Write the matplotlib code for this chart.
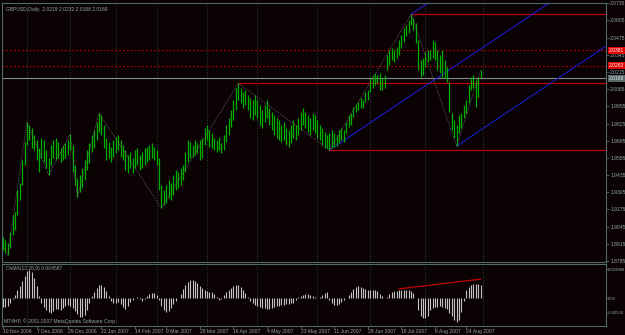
import numpy as np
import matplotlib
matplotlib.use('Agg')
import matplotlib.pyplot as plt
import matplotlib.transforms as mtransforms

# ---------------- data ----------------
highs = [1.8966,1.8944,1.8921,1.9004,1.9132,1.9155,1.9321,1.9374,1.9548,1.9684,
         1.9836,1.9813,1.9790,1.9737,1.9699,1.9639,1.9715,1.9699,1.9624,1.9563,
         1.9662,1.9699,1.9715,1.9684,1.9639,1.9662,1.9677,1.9699,1.9745,1.9662,
         1.9510,1.9412,1.9435,1.9488,1.9548,1.9624,1.9677,1.9737,1.9775,1.9836,
         1.9903,1.9888,1.9813,1.9715,1.9684,1.9646,1.9699,1.9722,1.9737,1.9699,
         1.9662,1.9624,1.9586,1.9609,1.9563,1.9624,1.9639,1.9586,1.9609,1.9639,
         1.9646,1.9662,1.9677,1.9646,1.9624,1.9563,1.9359,1.9321,1.9359,1.9397,
         1.9374,1.9435,1.9472,1.9457,1.9488,1.9510,1.9609,1.9699,1.9684,1.9662,
         1.9699,1.9677,1.9699,1.9715,1.9790,1.9813,1.9775,1.9752,1.9715,1.9699,
         1.9722,1.9677,1.9737,1.9813,1.9866,1.9926,2.0002,2.0092,2.0130,2.0092,
         2.0062,2.0077,2.0040,2.0017,2.0002,2.0040,2.0002,1.9964,1.9926,1.9964,
         2.0002,1.9941,1.9911,1.9888,1.9866,1.9851,1.9813,1.9836,1.9790,1.9775,
         1.9813,1.9851,1.9813,1.9866,1.9911,1.9941,1.9911,1.9888,1.9866,1.9903,
         1.9888,1.9851,1.9813,1.9790,1.9760,1.9737,1.9752,1.9775,1.9752,1.9737,
         1.9775,1.9790,1.9775,1.9836,1.9888,1.9903,1.9949,1.9971,1.9987,2.0017,
         2.0002,2.0062,2.0077,2.0168,2.0191,2.0206,2.0191,2.0206,2.0168,2.0191,
         2.0342,2.0380,2.0395,2.0380,2.0402,2.0455,2.0493,2.0546,2.0569,2.0607,
         2.0652,2.0622,2.0584,2.0455,2.0304,2.0319,2.0365,2.0380,2.0380,2.0455,
         2.0440,2.0380,2.0342,2.0380,2.0304,2.0251,2.0138,1.9903,1.9851,1.9813,
         1.9888,1.9903,1.9964,2.0002,2.0115,2.0176,2.0191,2.0153,2.0176,2.0232]
lows = [1.8868,1.8845,1.8830,1.8883,1.8981,1.9019,1.9132,1.9246,1.9359,1.9510,
        1.9662,1.9699,1.9639,1.9624,1.9548,1.9457,1.9563,1.9533,1.9488,1.9435,
        1.9510,1.9563,1.9548,1.9563,1.9533,1.9548,1.9563,1.9586,1.9624,1.9457,
        1.9359,1.9268,1.9306,1.9337,1.9397,1.9472,1.9525,1.9609,1.9639,1.9699,
        1.9760,1.9737,1.9639,1.9548,1.9563,1.9533,1.9571,1.9601,1.9624,1.9571,
        1.9548,1.9472,1.9450,1.9488,1.9450,1.9488,1.9510,1.9472,1.9488,1.9510,
        1.9533,1.9548,1.9563,1.9548,1.9510,1.9321,1.9185,1.9208,1.9223,1.9261,
        1.9246,1.9284,1.9321,1.9337,1.9359,1.9397,1.9457,1.9533,1.9563,1.9571,
        1.9586,1.9601,1.9548,1.9563,1.9662,1.9699,1.9646,1.9639,1.9624,1.9609,
        1.9624,1.9601,1.9624,1.9684,1.9737,1.9798,1.9851,1.9926,2.0002,1.9979,
        1.9941,1.9964,1.9926,1.9866,1.9851,1.9888,1.9866,1.9813,1.9790,1.9836,
        1.9866,1.9813,1.9775,1.9737,1.9715,1.9699,1.9684,1.9699,1.9662,1.9646,
        1.9677,1.9715,1.9699,1.9737,1.9775,1.9813,1.9790,1.9760,1.9737,1.9775,
        1.9752,1.9715,1.9699,1.9662,1.9639,1.9639,1.9624,1.9639,1.9646,1.9654,
        1.9677,1.9699,1.9684,1.9752,1.9798,1.9813,1.9873,1.9911,1.9926,1.9941,
        1.9941,1.9987,2.0002,2.0062,2.0092,2.0115,2.0130,2.0077,2.0077,2.0092,
        2.0228,2.0266,2.0304,2.0289,2.0319,2.0342,2.0395,2.0440,2.0486,2.0508,
        2.0569,2.0531,2.0433,2.0228,2.0176,2.0191,2.0251,2.0289,2.0304,2.0319,
        2.0304,2.0228,2.0206,2.0168,2.0168,2.0138,1.9911,1.9775,1.9715,1.9654,
        1.9752,1.9790,1.9866,1.9903,1.9979,2.0077,2.0092,1.9949,2.0024,2.0168]
last_close = 2.0169

# OsMA(12,26,9) histogram, in units of 1e-4
osma_e4 = [-32,-32,-28,-18,-4,10,28,42,60,77,
           95,98,91,70,42,7,-18,-32,-42,-49,
           -53,-46,-38,-38,-42,-35,-28,-25,-28,-35,
           -46,-56,-66,-66,-60,-42,-18,7,21,35,
           46,46,38,25,7,-10,-18,-18,-14,-21,
           -32,-38,-28,-14,-7,0,4,-4,-10,-4,
           7,14,18,18,10,-7,-28,-42,-49,-46,
           -35,-21,-10,0,14,32,46,56,63,63,
           60,52,42,35,28,25,21,21,14,4,
           -7,-4,10,21,28,35,42,46,46,38,
           28,18,4,-10,-18,-25,-28,-32,-35,-35,
           -38,-38,-35,-32,-28,-28,-25,-25,-21,-21,
           -18,-18,-7,4,7,10,14,14,10,7,
           4,0,4,10,18,21,-7,-18,-25,-25,
           -21,-14,-7,0,10,21,32,38,42,38,
           35,32,28,28,28,28,25,14,7,0,
           4,14,21,25,25,28,28,28,28,28,
           25,18,0,-42,-63,-70,-70,-63,-42,-35,
           -32,-32,-28,-32,-35,-38,-52,-63,-77,-84,
           -77,-49,-10,28,38,46,49,49,49,46]

zz_idx = [2, 10, 19, 28, 31, 40, 66, 98, 136, 170, 189, 199]
zz_kind = ['L', 'H', 'L', 'H', 'L', 'H', 'L', 'H', 'L', 'H', 'L', 'H']
pitchfork_idx = [136, 170, 189]
ray_idx = [98, 136, 170]
ray_kind = ['H', 'L', 'H']
dotted_levels = [2.0381, 2.0263]
osma_trend_idx = [165, 199]
osma_trend_val = [0.0032, 0.0066]

price_ticks = [2.0735, 2.0605, 2.0475, 2.0345, 2.0215, 2.0085, 1.9955, 1.9825,
               1.9695, 1.9565, 1.9435, 1.9305, 1.9175, 1.9045, 1.8915, 1.8785]
osma_ticks = [0.009988, 0.0, -0.00524]
osma_tick_labels = ['0.009988', '0.00', '-0.00524']
date_idx = [0, 14, 27, 41, 55, 68, 82, 96, 110, 124, 138, 152, 166, 180, 193]
date_labels = ['10 Nov 2006', '7 Dec 2006', '29 Dec 2006', '22 Jan 2007', '14 Feb 2007',
               '9 Mar 2007', '28 Mar 2007', '16 Apr 2007', '4 May 2007', '23 May 2007',
               '11 Jun 2007', '29 Jun 2007', '18 Jul 2007', '6 Aug 2007', '24 Aug 2007']
month_idx = [10, 28, 47, 64, 85, 106, 131, 153, 176, 200]

title_text = 'GBPUSD,Daily  2.0219 2.0232 2.0168 2.0169'
osma_title = 'OsMA(12,26,9) 0.004587'
copyright_text = 'MT4HP, \u00a9 2001-2007 MetaQuotes Software Corp.'

# ---------------- style ----------------
plt.rcParams['font.family'] = ['Liberation Sans', 'DejaVu Sans']
BG = '#0b0204'
FRAME = '#4e6a6a'
TXT = '#8fa5a5'
GRID = '#2c4a40'
BAR = '#00b000'
HIST = '#c4c4c4'
RED = '#b40000'
BLUE = '#1a1ac8'
FS = 3.6

W, H = 625, 335
fig = plt.figure(figsize=(W / 100, H / 100), dpi=100, facecolor=BG)
ax = fig.add_axes([2 / W, (H - 262) / H, 604 / W, 259 / H], facecolor=BG)
ax2 = fig.add_axes([2 / W, (H - 326) / H, 604 / W, 62 / H], facecolor=BG, sharex=ax)

n = len(highs)
idx = np.arange(n)
hi = np.array(highs)
lo = np.array(lows)
xmax = 251.2
ax.set_xlim(-0.4, xmax)
ax.set_ylim(1.8777, 2.0737)
ax2.set_ylim(-0.0098, 0.0119)

for a in (ax, ax2):
    for s in a.spines.values():
        s.set_color(FRAME)
        s.set_linewidth(0.8)
    for m in month_idx:
        a.axvline(m, color=GRID, lw=0.6, ls=(0, (1.2, 2)), zorder=1)

# bars
ax.vlines(idx, lo, hi, color=BAR, lw=0.9, zorder=3)

# zigzag
zz_price = [hi[i] if k == 'H' else lo[i] for i, k in zip(zz_idx, zz_kind)]
ax.plot(zz_idx, zz_price, color='#7a7a7a', lw=0.6, ls=(0, (1, 1.6)), zorder=4)

# dotted levels
for lv in dotted_levels:
    ax.axhline(lv, color='#c00000', lw=0.8, ls=(0, (1.5, 2)), zorder=2)
# bid line
ax.axhline(last_close, color='#7d8c8c', lw=0.8, zorder=2)

# horizontal rays
for i, k in zip(ray_idx, ray_kind):
    p = hi[i] if k == 'H' else lo[i]
    ax.plot([i, xmax], [p, p], color=RED, lw=0.9, zorder=2)

# Andrews pitchfork
i1, i2, i3 = pitchfork_idx
p1, p2, p3 = lo[i1], hi[i2], lo[i3]
mi, mp = (i2 + i3) / 2, (p2 + p3) / 2
slope = (mp - p1) / (mi - i1)
for (a_i, a_p) in [(i1, p1), (i2, p2), (i3, p3)]:
    ax.plot([a_i, xmax], [a_p, a_p + slope * (xmax - a_i)], color=BLUE, lw=0.8, zorder=2)

# price axis
ax.yaxis.tick_right()
ax.set_yticks(price_ticks)
ax.set_yticklabels(['%.4f' % t for t in price_ticks])
ax.tick_params(axis='y', colors=FRAME, labelcolor=TXT, labelsize=FS, length=2, width=0.6, pad=1)
ax.tick_params(axis='x', bottom=False, labelbottom=False)

trans = mtransforms.blended_transform_factory(ax.transAxes, ax.transData)
for lv in dotted_levels:
    ax.text(1.005, lv, '%.4f' % lv, transform=trans, ha='left', va='center', fontsize=FS,
            color='white', zorder=10, clip_on=False,
            bbox=dict(boxstyle='square,pad=0.2', fc='#e00000', ec='none'))
ax.text(1.005, last_close, '%.4f' % last_close, transform=trans, ha='left', va='center',
        fontsize=FS, color='#d8e0e0', zorder=10, clip_on=False,
        bbox=dict(boxstyle='square,pad=0.2', fc='#5a6a6a', ec='none'))

ax.text(0.006, 0.985, title_text, transform=ax.transAxes, ha='left', va='top',
        fontsize=FS, color=TXT)

# OsMA
osma = np.array(osma_e4) * 1e-4
ax2.vlines(idx, 0, osma, color=HIST, lw=0.8, zorder=3)
ax2.plot(osma_trend_idx, osma_trend_val, color='#c00000', lw=0.9, zorder=4)
ax2.yaxis.tick_right()
ax2.set_yticks(osma_ticks)
ax2.set_yticklabels(osma_tick_labels)
ax2.tick_params(axis='y', colors=FRAME, labelcolor=TXT, labelsize=3.0, length=1.2, width=0.6, pad=0.4)
ax2.set_xticks(date_idx)
ax2.set_xticklabels(date_labels, ha='left')
ax2.tick_params(axis='x', colors=FRAME, labelcolor=TXT, labelsize=FS, length=2, width=0.6, pad=0.5)
ax2.text(0.006, 0.96, osma_title, transform=ax2.transAxes, ha='left', va='top',
         fontsize=FS, color=TXT)
ax2.text(0.004, 0.04, copyright_text, transform=ax2.transAxes, ha='left', va='bottom',
         fontsize=FS, color=TXT)

fig.savefig('out.png', dpi=100, facecolor=BG)
